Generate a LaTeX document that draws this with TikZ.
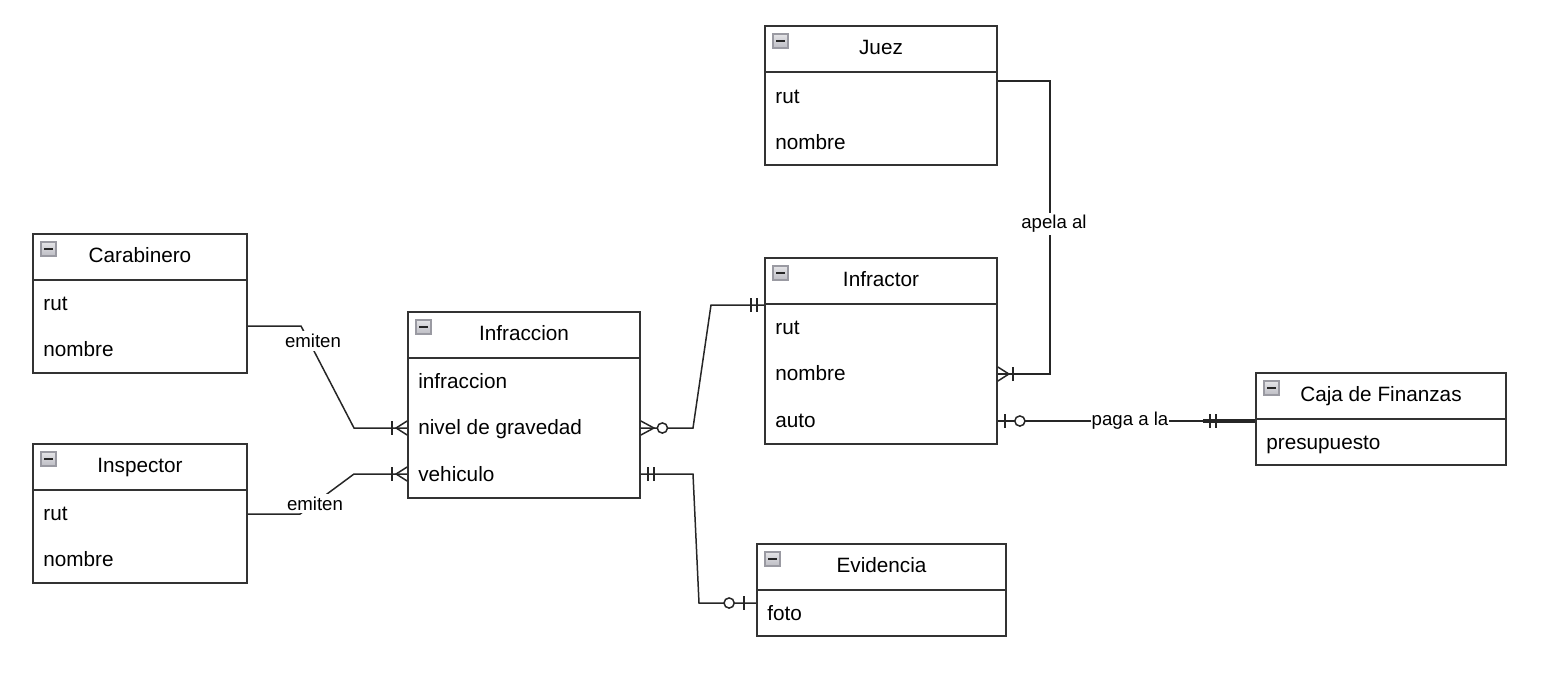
\documentclass[tikz,border=0pt]{standalone}
\usepackage{fontspec}
\setmainfont{Liberation Sans}
\usetikzlibrary{fit,calc}
\definecolor{bordercol}{HTML}{333333}
\definecolor{iconfill}{HTML}{BDBDC4}
\definecolor{iconborder}{HTML}{9A9AA2}
\tikzset{
  entity/.style={draw=bordercol, line width=1pt, inner sep=0pt},
  entline/.style={draw=bordercol, line width=1pt},
  etitle/.style={anchor=base, inner sep=0pt, font=\fontsize{11.8}{14}\selectfont},
  attr/.style={anchor=base west, inner sep=0pt, font=\fontsize{11.8}{14}\selectfont},
  lbl/.style={fill=white, inner sep=1.6pt, font=\fontsize{10.6}{12}\selectfont},
  conn/.style={draw=black!85, line width=0.85pt},
  iconst/.style={draw=iconborder, top color=iconfill!40, bottom color=iconfill, line width=0.6pt},
  minusst/.style={draw=black!85, line width=1.5pt},
  onemany/.pic={\draw[conn] (0,-7)--(-11,0)--(0,7); \draw[conn] (-15,-7)--(-15,7);},
  zeromany/.pic={\draw[conn] (0,-7)--(-13,0)--(0,7); \draw[conn, fill=white] (-21.5,0) circle[radius=2.9pt];},
  mandone/.pic={\draw[conn] (-7,-7)--(-7,7); \draw[conn] (-13,-7)--(-13,7);},
  zeroone/.pic={\draw[conn] (-7,-7)--(-7,7); \draw[conn, fill=white] (-22,0) circle[radius=2.9pt];}
}
\newcommand{\erbox}[6]{%
  \node[entity, fit={(#2,#3)(#4,#5)}] (#1) {};
  \draw[entline] (#2,#3+46) -- (#4,#3+46);
  \node[etitle] (#1-title) at ({(#2+#4)/2},#3+28.5) {#6};
  \draw[iconst] (#2+8,#3+8) rectangle (#2+23,#3+22);
  \draw[minusst] (#2+11,#3+15) -- (#2+20,#3+15);
}
\begin{document}
\begin{tikzpicture}[x=0.02cm, y=-0.02cm]
\useasboundingbox (0,0) rectangle (1552,680);

% bend points
\coordinate (a1) at (301,326);
\coordinate (a2) at (354,428);
\coordinate (b1) at (300,514);
\coordinate (b2) at (354,474);
\coordinate (c1) at (693,428);
\coordinate (c2) at (711,305);
\coordinate (d1) at (693,474);
\coordinate (d2) at (699,603);
\coordinate (e1) at (1050,81);
\coordinate (e2) at (1050,374);
\coordinate (f1) at (1130,421);
\coordinate (f2) at (1203,421);

% entities
\erbox{juez}{765}{26}{997}{165}{Juez}
\node[attr] (juez-rut) at (775,103) {rut};
\node[attr] (juez-nombre) at (775,149.5) {nombre};

\erbox{carabinero}{33}{234}{247}{373}{Carabinero}
\node[attr] (carabinero-rut) at (43,310) {rut};
\node[attr] (carabinero-nombre) at (43,356.5) {nombre};

\erbox{inspector}{33}{444}{247}{583}{Inspector}
\node[attr] (inspector-rut) at (43,520) {rut};
\node[attr] (inspector-nombre) at (43,566.5) {nombre};

\erbox{infraccion}{408}{312}{640}{498}{Infraccion}
\node[attr] (infraccion-a) at (418,388) {infraccion};
\node[attr] (infraccion-b) at (418,434.5) {nivel de gravedad};
\node[attr] (infraccion-c) at (418,481) {vehiculo};

\erbox{infractor}{765}{258}{997}{444}{Infractor}
\node[attr] (infractor-rut) at (775,334) {rut};
\node[attr] (infractor-nombre) at (775,380.5) {nombre};
\node[attr] (infractor-auto) at (775,427) {auto};

\erbox{caja}{1256}{373}{1506}{465}{Caja de Finanzas}
\node[attr] (caja-p) at (1266,449) {presupuesto};

\erbox{evidencia}{757}{544}{1006}{636}{Evidencia}
\node[attr] (evidencia-foto) at (767,620) {foto};

% connector paths
\draw[conn] (carabinero.east |- a1) -- (a1) -- (a2) -- (infraccion.west |- a2);
\draw[conn] (inspector.east |- b1) -- (b1) -- (b2) -- (infraccion.west |- b2);
\draw[conn] (infraccion.east |- c1) -- (c1) -- (c2) -- (infractor.west |- c2);
\draw[conn] (infraccion.east |- d1) -- (d1) -- (d2) -- (evidencia.west |- d2);
\draw[conn] (juez.east |- e1) -- (e1) -- (e2) -- (infractor.east |- e2);
\draw[conn] (infractor.east |- f1) -- (caja.west |- f1);
\draw[conn, line width=2pt] (f2) -- (caja.west |- f2);

% end markers
\path (infraccion.west |- a2) pic {onemany};
\path (infraccion.west |- b2) pic {onemany};
\path (infraccion.east |- c1) pic[rotate=180] {zeromany};
\path (infractor.west |- c2) pic {mandone};
\path (infraccion.east |- d1) pic[rotate=180] {mandone};
\path ($(evidencia.west |- d2)+(-5,0)$) pic {zeroone};
\path (infractor.east |- e2) pic[rotate=180] {onemany};
\path (infractor.east |- f1) pic[rotate=180] {zeroone};
\path ($(caja.west |- f1)+(-32,0)$) pic {mandone};

% labels
\node[lbl] (la) at (313,341) {emiten};
\node[lbl] (lb) at (315,503.5) {emiten};
\node[lbl] (le) at (1054,224) {apela al};
\node[lbl, inner xsep=0.3pt] (lf) at (f1) {paga a la};
\end{tikzpicture}
\end{document}
